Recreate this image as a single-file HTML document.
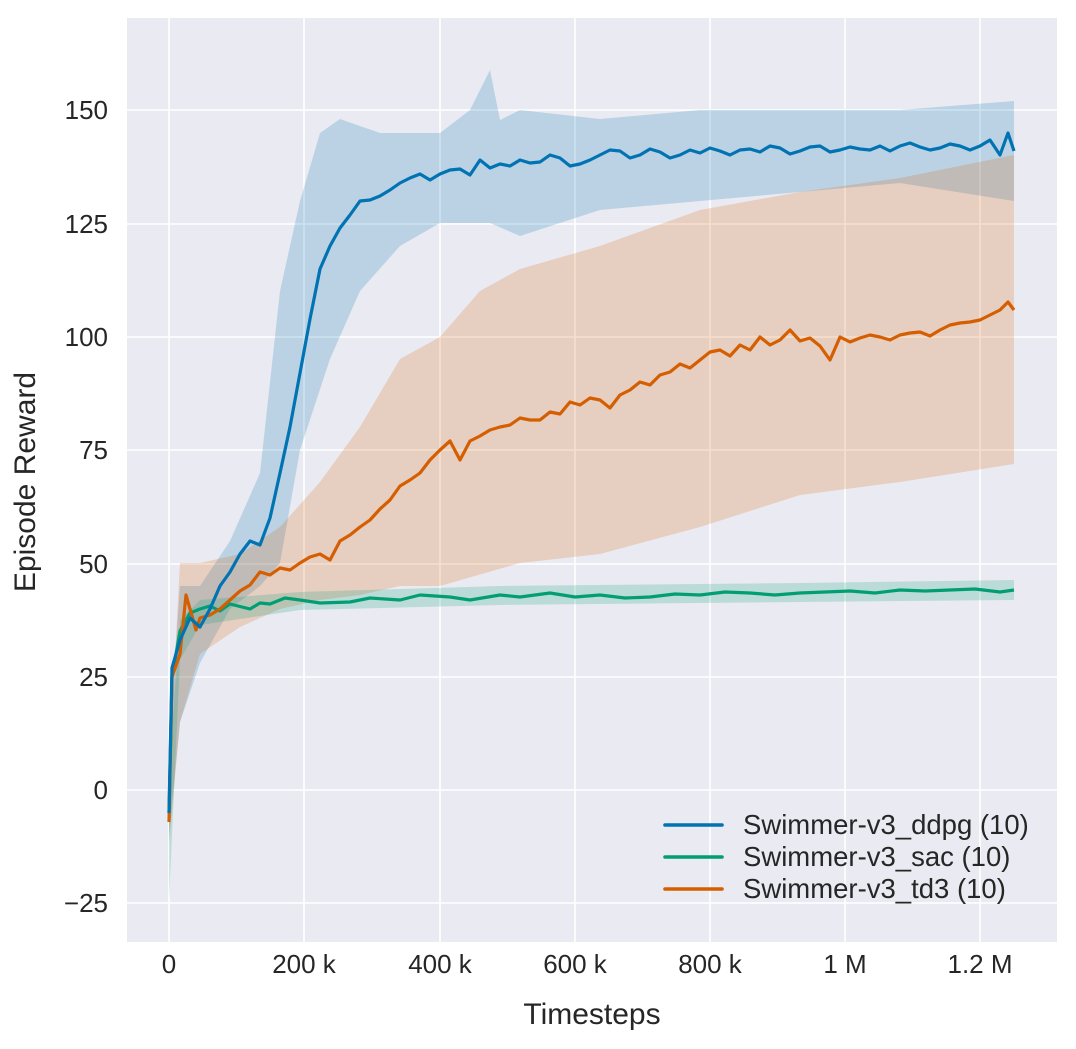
<!DOCTYPE html>
<html><head><meta charset="utf-8"><style>
body{margin:0;background:#fff;}
svg{display:block;font-family:"Liberation Sans",sans-serif;}
</style></head><body>
<svg width="1076" height="1049" viewBox="0 0 1076 1049">
<rect x="127" y="18" width="930" height="924" fill="#eaeaf2"/>
<g stroke="#fff" stroke-width="1.6">
<line x1="169" y1="18" x2="169" y2="942"/><line x1="304" y1="18" x2="304" y2="942"/>
<line x1="440" y1="18" x2="440" y2="942"/><line x1="575" y1="18" x2="575" y2="942"/>
<line x1="710" y1="18" x2="710" y2="942"/><line x1="845" y1="18" x2="845" y2="942"/>
<line x1="980" y1="18" x2="980" y2="942"/>
<line x1="127" y1="110" x2="1057" y2="110"/><line x1="127" y1="224" x2="1057" y2="224"/>
<line x1="127" y1="337" x2="1057" y2="337"/><line x1="127" y1="450" x2="1057" y2="450"/>
<line x1="127" y1="564" x2="1057" y2="564"/><line x1="127" y1="677" x2="1057" y2="677"/>
<line x1="127" y1="790" x2="1057" y2="790"/><line x1="127" y1="903" x2="1057" y2="903"/>
</g>
<polygon fill="#0173b2" fill-opacity="0.2" points="169,745 180,586 200,586 230,541 260,473 280,291 300,201 320,133 340,119 380,133 440,133 470,110 490,70 500,120 520,110 600,119 700,110 800,110 900,110 1014,101 1014,201 900,183 800,192 700,201 600,210 520,236 490,223 440,223 400,246 360,291 330,359 300,450 280,563 260,586 230,609 200,663 180,722 169,835"/>
<polygon fill="#d55e00" fill-opacity="0.2" points="169,767 180,563 200,563 240,554 280,527 320,482 360,427 400,359 440,337 480,291 520,269 600,246 700,210 800,192 900,178 1014,155 1014,464 900,482 800,495 700,527 600,554 520,563 440,586 400,586 360,595 320,600 280,609 240,627 200,654 180,722 169,844"/>
<polygon fill="#029e73" fill-opacity="0.2" points="169,770 180,620 200,600 300,592 500,586 800,583 1014,580 1014,600 800,602 500,605 300,610 200,625 180,660 169,900"/>
<g fill="none" stroke-width="3.2" stroke-linejoin="round">
<polyline stroke="#029e73" points="169,813 172,677 180,631 190,613 200,609 210,606 220,611 230,604 250,609 260,603 270,604 285,598 300,600 320,603 350,602 370,598 400,600 420,595 450,597 470,600 500,595 520,597 550,593 575,597 600,595 625,598 650,597 675,594 700,595 725,592 750,593 775,595 800,593 825,592 850,591 875,593 900,590 925,591 950,590 975,589 1000,592 1014,590"/>
<polyline stroke="#d55e00" points="169,822 172,677 180,654 186,595 190,609 196,630 200,618 210,615 220,609 230,600 240,591 250,585 260,572 270,575 280,568 290,570 300,563 310,557 320,554 330,560 340,541 350,535 360,527 370,520 380,509 390,500 400,486 410,480 420,473 430,460 440,450 450,441 460,460 470,441 480,436 490,430 500,427 510,425 520,418 530,420 540,420 550,412 560,414 570,402 580,405 590,398 600,400 610,408 620,395 630,390 640,382 650,385 660,375 670,372 680,364 690,368 700,360 710,352 720,350 730,356 740,345 750,350 760,337 770,345 780,340 790,330 800,341 810,338 820,346 830,360 840,337 850,342 860,338 870,335 880,337 890,340 900,335 910,333 920,332 930,336 940,330 950,325 960,323 970,322 980,320 990,315 1000,310 1008,302 1014,310"/>
<polyline stroke="#0173b2" points="169,813 172,668 180,640 190,618 200,627 210,609 220,586 230,572 240,554 250,541 260,545 270,518 280,473 290,427 300,373 310,319 320,269 330,246 340,228 350,215 360,201 370,200 380,196 390,190 400,183 410,178 420,174 430,180 440,174 450,170 460,169 470,175 480,160 490,168 500,164 510,166 520,160 530,163 540,162 550,155 560,158 570,166 580,164 590,160 600,155 610,150 620,151 630,158 640,155 650,149 660,152 670,158 680,155 690,150 700,153 710,148 720,151 730,155 740,150 750,149 760,152 770,146 780,148 790,154 800,151 810,147 820,146 830,152 840,150 850,147 860,149 870,150 880,146 890,151 900,146 910,143 920,147 930,150 940,148 950,144 960,146 970,150 980,146 990,140 1000,155 1008,133 1014,151"/>
</g>
<g font-size="26" fill="#262626" text-anchor="end">
<text x="108" y="119">150</text><text x="108" y="233">125</text><text x="108" y="346">100</text>
<text x="108" y="459">75</text><text x="108" y="573">50</text><text x="108" y="686">25</text>
<text x="108" y="799">0</text><text x="108" y="912">−25</text>
</g>
<g font-size="26" fill="#262626" text-anchor="middle">
<text x="169" y="973">0</text><text x="304" y="973">200 k</text><text x="440" y="973">400 k</text>
<text x="575" y="973">600 k</text><text x="710" y="973">800 k</text><text x="845" y="973">1 M</text>
<text x="980" y="973">1.2 M</text>
</g>
<text x="592" y="1024" font-size="30" fill="#262626" text-anchor="middle">Timesteps</text>
<text x="35" y="482" font-size="30" fill="#262626" text-anchor="middle" transform="rotate(-90 35 482)">Episode Reward</text>
<g stroke-width="3.6" stroke-linecap="round">
<line x1="665" y1="825" x2="722" y2="825" stroke="#0173b2"/>
<line x1="665" y1="857" x2="722" y2="857" stroke="#029e73"/>
<line x1="665" y1="889" x2="722" y2="889" stroke="#d55e00"/>
</g>
<g font-size="27.5" fill="#262626">
<text x="743" y="834">Swimmer-v3_ddpg (10)</text>
<text x="743" y="866">Swimmer-v3_sac (10)</text>
<text x="743" y="898">Swimmer-v3_td3 (10)</text>
</g>
</svg>
</body></html>
